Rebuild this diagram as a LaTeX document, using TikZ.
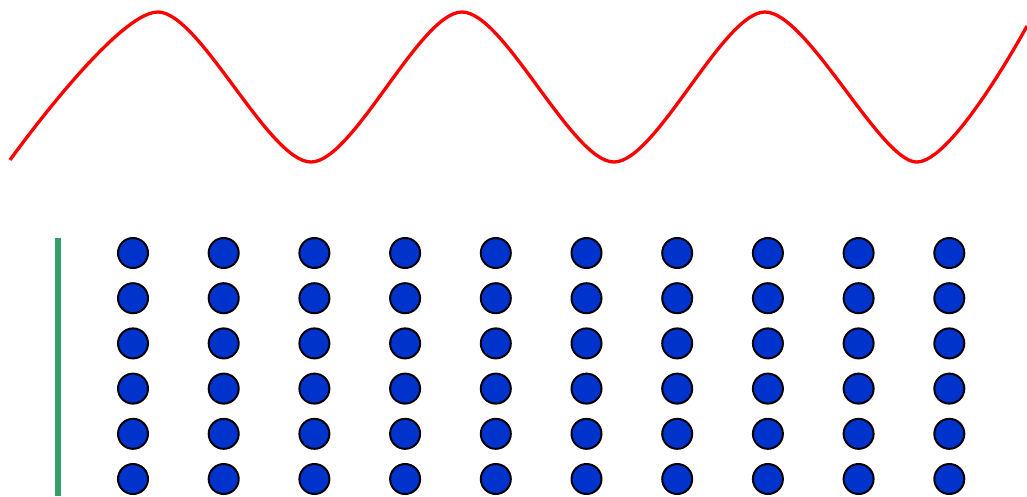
\documentclass[tikz,border=0pt]{standalone}
\definecolor{wavered}{RGB}{255,0,0}
\definecolor{dotblue}{RGB}{0,51,204}
\definecolor{bargreen}{RGB}{50,158,104}
\tikzset{
  dot/.style={circle, draw=black, line width=2pt, fill=dotblue, minimum size=30pt, inner sep=0pt},
  wave/.style={draw=wavered, line width=3.3pt},
  bar/.style={draw=bargreen, line width=6pt}
}
\begin{document}
\begin{tikzpicture}[x=1pt,y=-1pt]
\useasboundingbox (0,0) rectangle (1027,496);
\draw[wave] plot[smooth] coordinates {(10,160) (158,12) (311,162) (462,12) (614,162) (765,12) (916,162) (1027,26)};
\coordinate (gtop) at (57.5,238);
\coordinate (gbot) at (57.5,496);
\draw[bar] (gtop) -- (gbot);
\foreach \i in {0,...,9} {
  \foreach \j in {0,...,5} {
    \node[dot] (c-\i-\j) at ({133+\i*90.7}, {253+\j*45.2}) {};
  }
}
\end{tikzpicture}
\end{document}
